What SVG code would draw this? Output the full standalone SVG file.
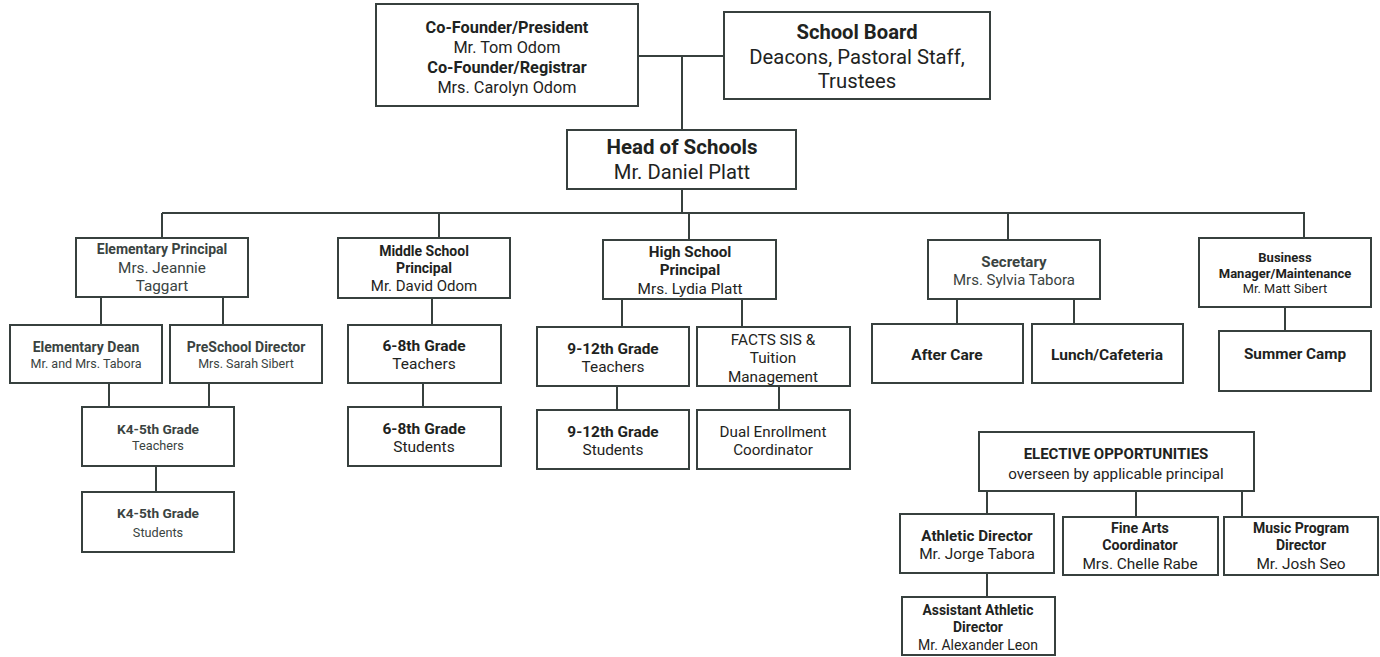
<svg xmlns="http://www.w3.org/2000/svg" width="1380" height="657" viewBox="0 0 1380 657">
<style>
rect.n{fill:#fff;stroke:#37403e;stroke-width:2}
text{font-family:Roboto,"Liberation Sans",Arial,sans-serif;text-anchor:middle;fill:#1e2321}
.b{font-weight:bold}
.g{fill:#3a4341}
#connectors path{fill:none;stroke:#37403e;stroke-width:2}
</style>
<rect width="1380" height="657" fill="#fff"/>
<g id="connectors">
<path d="M638 56H724M682 56V130"/>
<path d="M682 189V213M162 213H1305M162 213V238M439 213V238M689 213V240M1008 213V240M1304 213V238"/>
<path d="M101 297V325M223 297V325M109 383V407M209 383V407M156 466V492"/>
<path d="M432 298V325M423 383V407"/>
<path d="M622 299V327M742 299V327M617 386V410M779 386V410"/>
<path d="M957 299V324M1074 299V324M1285 307V331"/>
<path d="M987 491V514M1136 491V517M1242 491V517M987 573V597"/>
</g>
<g id="cofounder"><rect class="n" x="376" y="4" width="262" height="102"/>
<text x="507" y="33" font-size="16.3" class="b">Co-Founder/President</text>
<text x="507" y="53" font-size="16.3">Mr. Tom Odom</text>
<text x="507" y="73" font-size="16.3" class="b">Co-Founder/Registrar</text>
<text x="507" y="93" font-size="16.3">Mrs. Carolyn Odom</text></g>
<g id="board"><rect class="n" x="724" y="12" width="266" height="87"/>
<text x="857" y="39" font-size="20.2" class="b">School Board</text>
<text x="857" y="64" font-size="20.3">Deacons, Pastoral Staff,</text>
<text x="857" y="88" font-size="20.3">Trustees</text></g>
<g id="head"><rect class="n" x="567" y="130" width="229" height="59"/>
<text x="682" y="154" font-size="20.5" class="b">Head of Schools</text>
<text x="682" y="179" font-size="20.2">Mr. Daniel Platt</text></g>
<g id="elemprincipal"><rect class="n" x="76" y="238" width="172" height="59"/>
<text x="162" y="254" font-size="14" class="b g">Elementary Principal</text>
<text x="162" y="272.5" font-size="15.3" class="g">Mrs. Jeannie</text>
<text x="162" y="290.5" font-size="15.3" class="g">Taggart</text></g>
<g id="msprincipal"><rect class="n" x="338" y="238" width="172" height="60"/>
<text x="424" y="256" font-size="14" class="b">Middle School</text>
<text x="424" y="273" font-size="14" class="b">Principal</text>
<text x="424" y="291" font-size="15">Mr. David Odom</text></g>
<g id="elemdean"><rect class="n" x="10" y="325" width="152" height="58"/>
<text x="86" y="352" font-size="14" class="b g">Elementary Dean</text>
<text x="86" y="368" font-size="12.5" class="g">Mr. and Mrs. Tabora</text></g>
<g id="preschool"><rect class="n" x="170" y="325" width="152" height="58"/>
<text x="246" y="352" font-size="14" class="b g">PreSchool Director</text>
<text x="246" y="368" font-size="12.5" class="g">Mrs. Sarah Sibert</text></g>
<g id="k5teachers"><rect class="n" x="82" y="407" width="152" height="59"/>
<text x="158" y="434" font-size="13.7" class="b g">K4-5th Grade</text>
<text x="158" y="450" font-size="12.7" class="g">Teachers</text></g>
<g id="k5students"><rect class="n" x="82" y="492" width="152" height="60"/>
<text x="158" y="518" font-size="13.7" class="b g">K4-5th Grade</text>
<text x="158" y="537" font-size="12.7" class="g">Students</text></g>
<g id="ms68teachers"><rect class="n" x="348" y="325" width="153" height="58"/>
<text x="424" y="350.5" font-size="15.5" class="b">6-8th Grade</text>
<text x="424" y="368.5" font-size="15.5">Teachers</text></g>
<g id="ms68students"><rect class="n" x="348" y="407" width="153" height="59"/>
<text x="424" y="433.5" font-size="15.5" class="b">6-8th Grade</text>
<text x="424" y="451.5" font-size="15.5">Students</text></g>
<g id="hsprincipal"><rect class="n" x="603" y="240" width="173" height="59"/>
<text x="690" y="257" font-size="15.2" class="b">High School</text>
<text x="690" y="275" font-size="15.2" class="b">Principal</text>
<text x="690" y="293.5" font-size="15.3">Mrs. Lydia Platt</text></g>
<g id="hs912teachers"><rect class="n" x="537" y="327" width="152" height="59"/>
<text x="613" y="353.5" font-size="15.4" class="b">9-12th Grade</text>
<text x="613" y="371.5" font-size="15.4">Teachers</text></g>
<g id="facts"><rect class="n" x="697" y="327" width="153" height="59"/>
<text x="773" y="344.5" font-size="15.3">FACTS SIS &amp;</text>
<text x="773" y="362.5" font-size="15.3">Tuition</text>
<text x="773" y="381.5" font-size="15.3">Management</text></g>
<g id="hs912students"><rect class="n" x="537" y="410" width="152" height="59"/>
<text x="613" y="436.5" font-size="15.4" class="b">9-12th Grade</text>
<text x="613" y="454.5" font-size="15.4">Students</text></g>
<g id="dualenroll"><rect class="n" x="697" y="410" width="153" height="59"/>
<text x="773" y="436.5" font-size="15.2">Dual Enrollment</text>
<text x="773" y="454.5" font-size="15.2">Coordinator</text></g>
<g id="secretary"><rect class="n" x="928" y="240" width="172" height="59"/>
<text x="1014" y="266.5" font-size="15.1" class="b g">Secretary</text>
<text x="1014" y="284.5" font-size="15" class="g">Mrs. Sylvia Tabora</text></g>
<g id="aftercare"><rect class="n" x="872" y="324" width="151" height="59"/>
<text x="947" y="359.5" font-size="15.5" class="b">After Care</text></g>
<g id="lunch"><rect class="n" x="1032" y="324" width="151" height="59"/>
<text x="1107" y="359.5" font-size="15.5" class="b">Lunch/Cafeteria</text></g>
<g id="business"><rect class="n" x="1199" y="238" width="172" height="69"/>
<text x="1285" y="261.5" font-size="13" class="b">Business</text>
<text x="1285" y="277.5" font-size="13" class="b">Manager/Maintenance</text>
<text x="1285" y="292.5" font-size="12.8">Mr. Matt Sibert</text></g>
<g id="summercamp"><rect class="n" x="1219" y="331" width="152" height="60"/>
<text x="1295" y="358.5" font-size="15.3" class="b">Summer Camp</text></g>
<g id="electives"><rect class="n" x="979" y="432" width="275" height="59"/>
<text x="1116" y="458.5" font-size="15" class="b">ELECTIVE OPPORTUNITIES</text>
<text x="1116" y="478.5" font-size="15.2">overseen by applicable principal</text></g>
<g id="athletic"><rect class="n" x="900" y="514" width="154" height="59"/>
<text x="977" y="540.5" font-size="15.2" class="b">Athletic Director</text>
<text x="977" y="558.5" font-size="15.4">Mr. Jorge Tabora</text></g>
<g id="finearts"><rect class="n" x="1063" y="517" width="155" height="58"/>
<text x="1140" y="533" font-size="14.2" class="b">Fine Arts</text>
<text x="1140" y="550" font-size="14.2" class="b">Coordinator</text>
<text x="1140" y="568.5" font-size="15.4">Mrs. Chelle Rabe</text></g>
<g id="music"><rect class="n" x="1224" y="517" width="154" height="58"/>
<text x="1301" y="533" font-size="14" class="b">Music Program</text>
<text x="1301" y="550" font-size="14" class="b">Director</text>
<text x="1301" y="568.5" font-size="15.4">Mr. Josh Seo</text></g>
<g id="asstathletic"><rect class="n" x="902" y="597" width="153" height="58"/>
<text x="978" y="615" font-size="13.9" class="b">Assistant Athletic</text>
<text x="978" y="632" font-size="13.9" class="b">Director</text>
<text x="978" y="650" font-size="14">Mr. Alexander Leon</text></g>
</svg>
